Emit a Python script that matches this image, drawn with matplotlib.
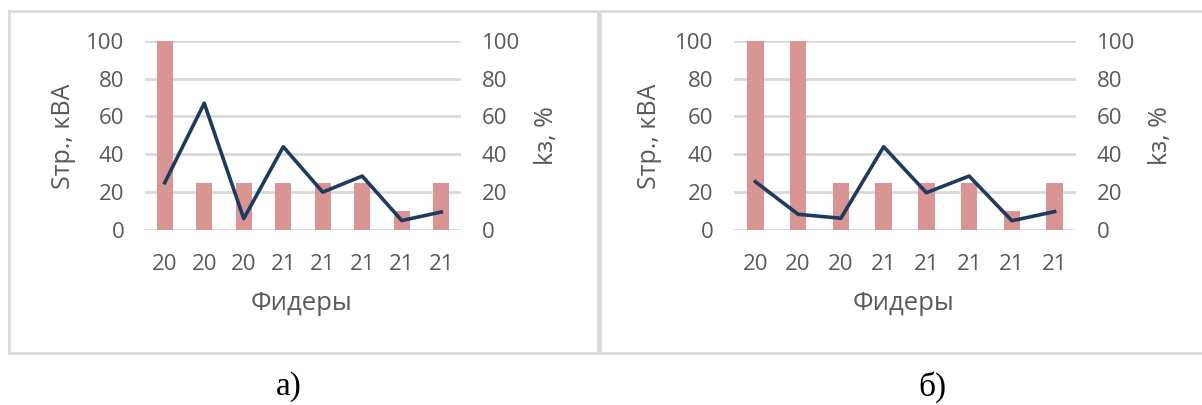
import matplotlib
matplotlib.use('Agg')
import matplotlib.pyplot as plt
from matplotlib.lines import Line2D

# данные
feeders = ['20', '20', '20', '21', '21', '21', '21', '21']
s_a = [100, 25, 25, 25, 25, 25, 10, 25]
k_a = [25, 67, 6, 44, 20, 28.5, 5, 9.5]
s_b = [100, 100, 25, 25, 25, 25, 10, 25]
k_b = [25.5, 8.3, 6.2, 44, 19.7, 28.5, 4.9, 9.7]
yticks = [0, 20, 40, 60, 80, 100]

plt.rcParams['font.family'] = ['Open Sans', 'DejaVu Sans']
W, H = 1202, 405
grey = '#595959'
bar_col = '#D99594'
line_col = '#1F3A5F'

fig = plt.figure(figsize=(W / 100, H / 100), dpi=100)


def fx(px):
    return px / W


def fy(py):
    return 1 - py / H


def panel(x0, x1, s, k, ylab_x, klab_x, xlab_x, bw):
    ax = fig.add_axes([fx(x0), fy(230), fx(x1 - x0), (230 - 40.7) / H])
    x = list(range(len(feeders)))
    ax.bar(x, s, width=bw, color=bar_col, zorder=2)
    ax.set_xlim(-0.5, len(feeders) - 0.5)
    ax.set_ylim(0, 100)
    ax.set_yticks(yticks)
    ax.set_xticks(x)
    ax.set_xticklabels(feeders)
    ax.grid(axis='y', color='#D9D9D9', linewidth=2, zorder=0)
    ax.set_axisbelow(True)
    for sp in ax.spines.values():
        sp.set_visible(False)
    ax.tick_params(axis='y', length=0, pad=15, labelsize=16, labelcolor=grey)
    ax.tick_params(axis='x', length=0, pad=17, labelsize=16, labelcolor=grey)

    ax2 = ax.twinx()
    ax2.plot(x, k, color=line_col, linewidth=2.6, zorder=3)
    ax2.set_ylim(0, 100)
    ax2.set_yticks(yticks)
    for sp in ax2.spines.values():
        sp.set_visible(False)
    ax2.tick_params(axis='y', length=0, pad=15, labelsize=16, labelcolor=grey)

    fig.text(fx(ylab_x), fy(136), 'Sтр., кВА', rotation=90, ha='center', va='center',
             fontsize=18, color=grey)
    fig.text(fx(klab_x), fy(136), 'kз, %', rotation=90, ha='center', va='center',
             fontsize=18, color=grey)
    fig.text(fx(xlab_x), fy(304), 'Фидеры', ha='center', va='center',
             fontsize=18.5, color=grey)


panel(145, 461, s_a, k_a, 63, 547, 302, 0.4)
panel(734, 1076, s_b, k_b, 650, 1161, 904, 0.39)

# рамки
frame = dict(color='#D9D9D9', linewidth=2, transform=fig.transFigure)
fig.add_artist(Line2D([fx(9), fx(9), fx(598), fx(598), fx(9)],
                      [fy(11), fy(353), fy(353), fy(11), fy(11)], **frame))
fig.add_artist(Line2D([fx(1202), fx(600), fx(600), fx(1202)],
                      [fy(11), fy(11), fy(353), fy(353)], **frame))

fig.text(fx(289), fy(387), 'а)', ha='center', va='center', fontsize=24,
         family='Liberation Serif', color='black')
fig.text(fx(932), fy(387), 'б)', ha='center', va='center', fontsize=24,
         family='Liberation Serif', color='black')

fig.savefig('out.png', dpi=100)
